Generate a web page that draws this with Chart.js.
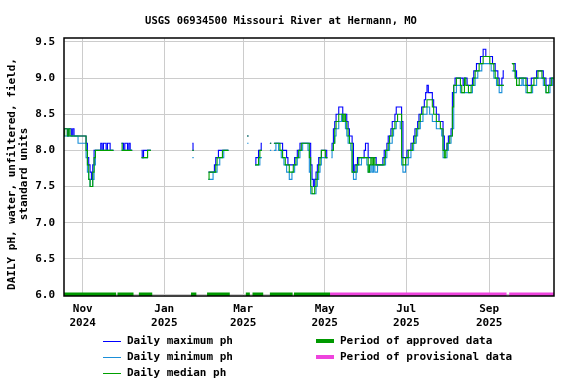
<!DOCTYPE html>
<html>
<head>
<meta charset="utf-8">
<script src="https://cdn.jsdelivr.net/npm/chart.js@4"></script>
<style>
  body { margin: 0; background: #fff; }
</style>
</head>
<body>
<canvas id="phChart" width="576" height="384"></canvas>
<script>
// day 0 = 2024-10-18, one value per day, null = no data
const startDate = '2024-10-18';

const dailyMax = [
  8.3,8.3,8.3,8.2,8.3,8.3,8.2,8.3,8.2,8.2,
  8.2,8.2,8.2,8.2,8.2,8.2,8.2,8.1,7.9,7.8,
  7.7,7.6,7.8,8.0,8.0,8.0,8.0,8.0,8.1,8.0,
  8.1,8.1,8.0,8.1,8.1,8.0,8.0,8.0,null,null,
  null,null,null,8.1,8.1,8.0,8.1,8.1,8.0,8.1,
  8.0,8.0,null,null,null,null,null,null,8.0,7.9,
  8.0,8.0,8.0,8.0,8.0,8.0,null,null,null,null,
  null,null,null,null,null,null,null,null,null,null,
  null,null,null,null,null,null,null,null,null,null,
  null,null,null,null,null,null,8.1,8.0,null,null,
  null,null,null,null,null,null,null,null,7.7,7.7,
  7.7,7.7,7.7,7.8,7.9,7.9,8.0,8.0,8.0,8.0,
  8.0,8.0,8.0,8.0,null,null,null,null,null,null,
  null,null,null,null,null,null,null,8.2,8.2,null,
  null,null,null,7.8,7.9,7.9,8.0,8.0,8.1,null,
  null,null,null,null,8.1,8.1,null,8.1,8.1,8.1,
  8.1,8.1,8.1,8.1,8.0,8.0,8.0,7.9,7.8,7.8,
  7.8,7.8,7.8,7.9,7.9,8.0,8.0,8.1,8.1,8.1,
  8.1,8.1,8.1,8.1,8.1,7.8,7.6,7.5,7.6,7.7,
  7.8,7.9,7.9,8.0,8.0,8.0,8.0,7.9,null,null,
  8.0,8.1,8.3,8.4,8.5,8.5,8.6,8.6,8.6,8.5,
  8.5,8.5,8.4,8.3,8.2,8.2,8.1,7.7,7.8,7.8,
  7.9,7.9,7.9,7.9,7.9,8.0,8.1,8.1,7.9,7.9,
  7.9,7.9,7.9,7.9,7.8,7.8,7.8,7.8,7.8,7.9,
  8.0,8.0,8.1,8.2,8.2,8.3,8.4,8.4,8.5,8.6,
  8.6,8.6,8.6,8.4,7.9,7.9,7.9,8.0,8.0,8.0,
  8.1,8.1,8.2,8.3,8.3,8.4,8.5,8.5,8.6,8.6,
  8.7,8.8,8.9,8.8,8.8,8.8,8.7,8.6,8.6,8.5,
  8.5,8.4,8.4,8.4,8.2,8.0,8.0,8.1,8.2,8.2,
  8.3,8.8,8.9,9.0,9.0,9.0,9.0,9.0,9.0,8.9,
  9.0,9.0,8.9,8.9,8.9,8.9,9.0,9.1,9.1,9.2,
  9.2,9.2,9.3,9.3,9.4,9.4,9.3,9.3,9.3,9.3,
  9.3,9.2,9.2,9.1,9.1,9.0,8.9,8.9,9.0,9.1,
  null,null,null,null,null,9.2,9.2,9.2,9.1,9.0,
  9.0,9.0,9.0,9.0,9.0,9.0,9.0,8.9,8.9,8.9,
  9.0,9.0,9.0,9.0,9.1,9.1,9.1,9.1,9.1,9.0,
  9.0,8.9,8.9,8.9,9.0,9.0,9.0
];

const dailyMin = [
  8.2,8.2,8.2,8.2,8.2,8.2,8.2,8.2,8.2,8.2,
  8.2,8.1,8.1,8.1,8.1,8.1,8.1,7.9,7.7,7.6,
  7.5,7.5,7.6,7.8,8.0,8.0,8.0,8.0,8.0,8.0,
  8.0,8.0,8.0,8.0,8.0,8.0,8.0,8.0,null,null,
  null,null,null,8.0,8.0,8.0,8.0,8.0,8.0,8.0,
  8.0,8.0,null,null,null,null,null,null,7.9,7.9,
  7.9,7.9,7.9,8.0,8.0,8.0,null,null,null,null,
  null,null,null,null,null,null,null,null,null,null,
  null,null,null,null,null,null,null,null,null,null,
  null,null,null,null,null,null,7.9,7.9,null,null,
  null,null,null,null,null,null,null,null,7.6,7.6,
  7.6,7.6,7.7,7.7,7.7,7.8,7.8,7.9,7.9,7.9,
  8.0,8.0,8.0,8.0,null,null,null,null,null,null,
  null,null,null,null,null,null,null,8.1,8.1,null,
  null,null,null,7.8,7.8,7.8,7.8,7.9,7.9,null,
  null,null,null,null,8.0,8.0,null,8.0,8.0,8.1,
  8.1,8.0,8.0,7.9,7.9,7.8,7.8,7.7,7.7,7.6,
  7.6,7.7,7.7,7.8,7.8,7.9,7.9,8.0,8.0,8.1,
  8.1,8.1,8.1,8.0,7.7,7.4,7.4,7.4,7.4,7.5,
  7.6,7.7,7.8,7.9,7.9,7.9,7.9,7.9,null,null,
  7.9,8.0,8.1,8.2,8.3,8.3,8.4,8.4,8.5,8.4,
  8.4,8.3,8.2,8.1,8.1,8.0,7.7,7.6,7.6,7.7,
  7.8,7.8,7.8,7.9,7.9,7.9,7.9,7.8,7.7,7.7,
  7.8,7.7,7.8,7.7,7.7,7.8,7.8,7.8,7.8,7.8,
  7.8,7.9,8.0,8.0,8.1,8.1,8.2,8.3,8.3,8.4,
  8.4,8.4,8.3,7.8,7.7,7.7,7.8,7.8,7.9,7.9,
  8.0,8.0,8.1,8.1,8.2,8.3,8.3,8.4,8.4,8.5,
  8.5,8.5,8.6,8.6,8.5,8.5,8.4,8.4,8.4,8.3,
  8.3,8.3,8.3,8.2,7.9,7.9,7.9,8.0,8.1,8.1,
  8.2,8.3,8.8,8.8,8.9,8.9,8.9,8.8,8.8,8.8,
  8.8,8.8,8.8,8.8,8.8,8.8,8.9,8.9,9.0,9.0,
  9.1,9.1,9.1,9.2,9.2,9.2,9.2,9.2,9.2,9.2,
  9.1,9.1,9.0,9.0,8.9,8.9,8.8,8.8,8.9,8.9,
  null,null,null,null,null,9.1,9.1,9.1,9.0,8.9,
  8.9,8.9,8.9,9.0,8.9,8.9,8.8,8.8,8.8,8.8,
  8.8,8.9,8.9,8.9,9.0,9.0,9.0,9.0,9.0,8.9,
  8.9,8.8,8.8,8.8,8.9,8.9,9.0
];

const dailyMedian = [
  8.2,8.3,8.3,8.2,8.3,8.2,8.2,8.2,8.2,8.2,
  8.2,8.2,8.2,8.2,8.2,8.2,8.2,8.0,7.8,7.6,
  7.5,7.5,7.7,7.9,8.0,8.0,8.0,8.0,8.0,8.0,
  8.0,8.0,8.0,8.0,8.0,8.0,8.0,8.0,null,null,
  null,null,null,8.1,8.0,8.0,8.0,8.0,8.0,8.0,
  8.0,8.0,null,null,null,null,null,null,7.9,7.9,
  7.9,7.9,7.9,8.0,8.0,8.0,null,null,null,null,
  null,null,null,null,null,null,null,null,null,null,
  null,null,null,null,null,null,null,null,null,null,
  null,null,null,null,null,null,8.0,8.0,null,null,
  null,null,null,null,null,null,null,null,7.6,7.7,
  7.7,7.7,7.7,7.7,7.8,7.9,7.9,7.9,7.9,8.0,
  8.0,8.0,8.0,8.0,null,null,null,null,null,null,
  null,null,null,null,null,null,null,8.2,8.2,null,
  null,null,null,7.8,7.8,7.8,7.9,8.0,8.0,null,
  null,null,null,null,8.1,8.1,null,8.1,8.1,8.1,
  8.1,8.1,8.0,8.0,7.9,7.9,7.8,7.8,7.8,7.7,
  7.7,7.7,7.8,7.8,7.9,7.9,8.0,8.0,8.1,8.1,
  8.1,8.1,8.1,8.1,7.9,7.5,7.4,7.4,7.5,7.6,
  7.7,7.8,7.9,8.0,8.0,8.0,7.9,7.9,null,null,
  8.0,8.0,8.1,8.3,8.4,8.4,8.5,8.5,8.5,8.4,
  8.5,8.4,8.3,8.2,8.1,8.1,7.7,7.7,7.7,7.8,
  7.8,7.9,7.9,7.9,7.9,7.9,7.9,7.9,7.7,7.8,
  7.9,7.8,7.9,7.8,7.8,7.8,7.8,7.8,7.8,7.8,
  7.9,8.0,8.0,8.1,8.2,8.2,8.3,8.3,8.4,8.4,
  8.5,8.5,8.5,7.9,7.8,7.8,7.9,7.9,8.0,8.0,
  8.0,8.1,8.1,8.2,8.3,8.3,8.4,8.5,8.5,8.6,
  8.6,8.6,8.7,8.7,8.7,8.7,8.6,8.5,8.5,8.4,
  8.4,8.4,8.3,8.3,8.0,7.9,8.0,8.1,8.1,8.2,
  8.2,8.6,8.9,8.9,9.0,9.0,9.0,8.9,8.8,8.8,
  9.0,8.9,8.9,8.8,8.8,8.9,8.9,9.0,9.1,9.1,
  9.1,9.2,9.2,9.2,9.3,9.3,9.3,9.3,9.3,9.2,
  9.2,9.2,9.1,9.0,9.0,8.9,8.9,8.9,8.9,8.9,
  null,null,null,null,null,9.2,9.2,9.1,9.0,8.9,
  8.9,9.0,9.0,9.0,9.0,9.0,8.9,8.8,8.8,8.8,
  8.9,8.9,9.0,9.0,9.0,9.1,9.1,9.1,9.0,9.0,
  8.9,8.8,8.8,8.9,8.9,9.0,9.0
];

// data status periods, in days from startDate
const approvedStart = [0, 40, 56, 95, 107, 136, 141, 154, 172];
const approvedEnd = [39, 52, 66, 99, 124, 139, 149, 171, 199];
const provisionalStart = [199, 333];
const provisionalEnd = [331, 367];

const monthTicks = ['2024-11-01', '2025-01-01', '2025-03-01', '2025-05-01', '2025-07-01', '2025-09-01'];
const monthLabels = [['Nov', '2024'], ['Jan', '2025'], ['Mar', '2025'], ['May', '2025'], ['Jul', '2025'], ['Sep', '2025']];
const yTicks = [6.0, 6.5, 7.0, 7.5, 8.0, 8.5, 9.0, 9.5];

const titleText = 'USGS 06934500 Missouri River at Hermann, MO';
const yTitle = ['DAILY pH, water, unfiltered, field,', 'standard units'];

const FONT = 'bold 11px "DejaVu Sans Mono"';
const C_MAX = '#0000ff';
const C_MIN = '#1b8fd8';
const C_MED = '#00a000';
const C_APPROVED = '#009900';
const C_PROV = '#ee44dd';

function dayIndex(s) {
    return (Date.parse(s) - Date.parse(startDate)) / 86400000;
}

function toPoints(arr) {
    return arr.map((v, i) => ({ x: i, y: v }));
}

function periodPoints(starts, ends) {
    const pts = [];
    for (let i = 0; i < starts.length; i++) {
        pts.push({ x: starts[i], y: 6 }, { x: ends[i], y: 6 }, { x: ends[i], y: null });
    }
    return pts;
}

const frame = {
    id: 'frame',
    afterDraw(chart) {
        const ctx = chart.ctx;
        const a = chart.chartArea;
        ctx.save();
        ctx.strokeStyle = '#000';
        ctx.lineWidth = 1.5;
        ctx.strokeRect(a.left, a.top, a.right - a.left, a.bottom - a.top);

        ctx.fillStyle = '#000';
        ctx.font = 'bold 10.5px "DejaVu Sans Mono"';
        ctx.textAlign = 'center';
        ctx.textBaseline = 'middle';
        ctx.fillText(titleText, 281, 21);

        // y axis title
        ctx.font = FONT;
        ctx.save();
        ctx.translate(12, 174);
        ctx.rotate(-Math.PI / 2);
        ctx.fillText(yTitle[0], 0, 0);
        ctx.fillText(yTitle[1], 0, 12);
        ctx.restore();

        // legend
        ctx.textAlign = 'left';
        const left = [['Daily maximum ph', C_MAX], ['Daily minimum ph', C_MIN], ['Daily median ph', C_MED]];
        left.forEach((it, i) => {
            const y = 341 + i * 16;
            ctx.fillStyle = it[1];
            ctx.fillRect(103, y, 18, 1);
            ctx.fillStyle = '#000';
            ctx.fillText(it[0], 127, y);
        });
        const right = [['Period of approved data', C_APPROVED], ['Period of provisional data', C_PROV]];
        right.forEach((it, i) => {
            const y = 341 + i * 16;
            ctx.fillStyle = it[1];
            ctx.fillRect(316, y - 2, 18, 4);
            ctx.fillStyle = '#000';
            ctx.fillText(it[0], 340, y);
        });
        ctx.restore();
    }
};

function lineSet(label, arr, color) {
    return {
        label: label,
        data: toPoints(arr),
        borderColor: color,
        borderWidth: 1.1,
        pointRadius: 0,
        stepped: 'middle',
        fill: false
    };
}

function barSet(label, starts, ends, color) {
    return {
        label: label,
        data: periodPoints(starts, ends),
        borderColor: color,
        borderWidth: 5,
        borderCapStyle: 'butt',
        pointRadius: 0,
        fill: false
    };
}

Chart.defaults.font.family = '"DejaVu Sans Mono"';
Chart.defaults.font.size = 11;
Chart.defaults.font.weight = 'bold';
Chart.defaults.color = '#000';

new Chart(document.getElementById('phChart').getContext('2d'), {
    type: 'line',
    data: {
        datasets: [
            barSet('Period of approved data', approvedStart, approvedEnd, C_APPROVED),
            barSet('Period of provisional data', provisionalStart, provisionalEnd, C_PROV),
            lineSet('Daily median ph', dailyMedian, C_MED),
            lineSet('Daily minimum ph', dailyMin, C_MIN),
            lineSet('Daily maximum ph', dailyMax, C_MAX)
        ]
    },
    options: {
        responsive: false,
        animation: false,
        layout: { padding: { top: 38, right: 22, left: 0, bottom: 0 } },
        plugins: {
            legend: { display: false },
            tooltip: { enabled: false },
            title: { display: false }
        },
        scales: {
            x: {
                type: 'linear',
                min: 0,
                max: 366.5,
                border: { display: false },
                grid: { color: '#cccccc', lineWidth: 1, drawTicks: false },
                afterBuildTicks: scale => {
                    scale.ticks = monthTicks.map(s => ({ value: dayIndex(s) }));
                },
                afterFit: scale => { scale.height = 88; },
                ticks: {
                    padding: 7,
                    maxRotation: 0,
                    autoSkip: false,
                    font: { lineHeight: 1.2 },
                    callback: (v, i) => monthLabels[i]
                }
            },
            y: {
                min: 5.986,
                max: 9.555,
                border: { display: false },
                grid: { color: '#cccccc', lineWidth: 1, drawTicks: false },
                afterBuildTicks: scale => {
                    scale.ticks = yTicks.map(v => ({ value: v }));
                },
                afterFit: scale => { scale.width = 64; },
                ticks: {
                    padding: 9,
                    callback: v => v.toFixed(1)
                }
            }
        }
    },
    plugins: [frame]
});
</script>
</body>
</html>
